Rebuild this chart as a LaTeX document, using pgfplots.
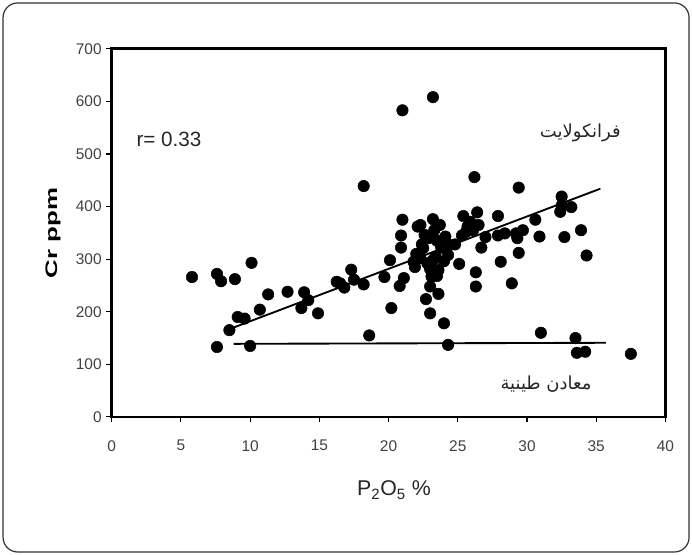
\documentclass[border=0pt]{standalone}
\usepackage{pgfplots}
\pgfplotsset{compat=1.18}
\usepackage{fontspec}
\setmainfont{Liberation Sans}
\newfontfamily\arabicfont[Script=Arabic]{DejaVu Sans}
\TeXXeTstate=1

\pgfplotstableread{
x y
5.8 266
7.6 272
7.9 258
7.6 133
8.9 262
8.5 165
9.1 190
9.6 187
10.1 293
10.0 135
10.7 204
11.3 233
12.7 238
13.9 237
13.7 207
14.2 222
14.9 197
16.25 257
16.5 254
16.8 246
17.3 280
17.5 261
18.2 439
18.2 252
18.6 155
19.7 266
20.1 298
20.2 207
20.8 249
21.0 583
21.0 375
20.9 345
20.9 322
21.1 264
21.8 295
21.9 285
22.0 310
22.1 362
22.3 365
22.4 328
22.6 346
22.5 321
22.3 302
22.8 292
22.9 340
22.7 224
23.0 197
23.2 608
23.2 376
23.7 365
23.3 355
23.5 335
23.4 305
24.0 296
24.1 343
23.2 298
23.0 281
23.1 267
23.6 279
23.5 268
23.0 248
23.6 234
24.0 178
24.3 137
23.8 322
24.4 327
24.3 308
25.1 291
24.8 328
25.3 345
25.4 382
25.9 371
25.6 352
25.7 362
26.1 355
26.2 456
26.4 389
26.5 365
26.7 322
26.3 275
26.3 248
27.0 342
27.9 382
27.9 345
28.1 295
28.4 349
28.9 254
29.4 436
29.2 349
29.3 340
29.4 312
29.7 355
30.6 375
30.9 343
31.0 160
32.5 419
32.5 402
32.4 390
32.7 342
33.2 399
33.5 150
33.6 122
34.2 124
33.9 355
34.3 307
37.5 120
}\points

\begin{document}
\begin{tikzpicture}
\begin{axis}[
  scale only axis,
  width=415.35pt, height=276.15pt,
  xmin=0, xmax=40, ymin=0, ymax=700,
  xtick={0,5,...,40}, ytick={0,100,...,700},
  tick align=outside, major tick length=4pt,
  xtick pos=bottom, ytick pos=left,
  axis line style={line width=2pt},
  tick style={line width=0.8pt, black},
  ticklabel style={font=\fontsize{11.6}{12}\selectfont, text=black!75},
  xticklabel style={yshift=-10pt},
  /pgf/number format/assume math mode=true,
  xlabel={P\textsubscript{2}O\textsubscript{5} \%},
  xlabel style={at={(axis description cs:0.5,0)}, anchor=center, yshift=-55pt, xshift=4pt, font=\fontsize{16}{16}\selectfont, text=black!85},
  clip=false,
]
\addplot[only marks, mark=*, mark size=4.3pt, black] table[x=x,y=y] {\points};
\addplot[black, line width=1.4pt] coordinates {(8.8,170) (35.3,434)};
\addplot[black, line width=1.4pt] coordinates {(8.8,139) (35.7,141)};
\node[anchor=west, font=\fontsize{15.5}{16}\selectfont, text=black!85] at (axis cs:1.45,527) {r= 0.33};
\node[anchor=east, font=\arabicfont\fontsize{13.5}{14}\selectfont, text=black!85] at (axis cs:37.1,540) {\beginR فرانكولايت\endR};
\node[anchor=east, font=\arabicfont\fontsize{13.5}{14}\selectfont, text=black!85] at (axis cs:35.0,63) {\beginR معادن طينية\endR};
\node[rotate=90, anchor=center, font=\fontsize{12.5}{12}\selectfont\bfseries] at ([xshift=-44pt]axis description cs:0,0.5) {\scalebox{1.55}[1]{Cr ppm}};
\path ([xshift=-83.8pt,yshift=-103.5pt]rel axis cs:0,0) rectangle ([xshift=19.9pt,yshift=36.6pt]rel axis cs:1,1);
\draw[rounded corners=11pt, line width=0.9pt, black!80] ([xshift=-81.5pt,yshift=-101.3pt]rel axis cs:0,0) rectangle ([xshift=17.7pt,yshift=34.4pt]rel axis cs:1,1);
\end{axis}
\end{tikzpicture}
\end{document}
